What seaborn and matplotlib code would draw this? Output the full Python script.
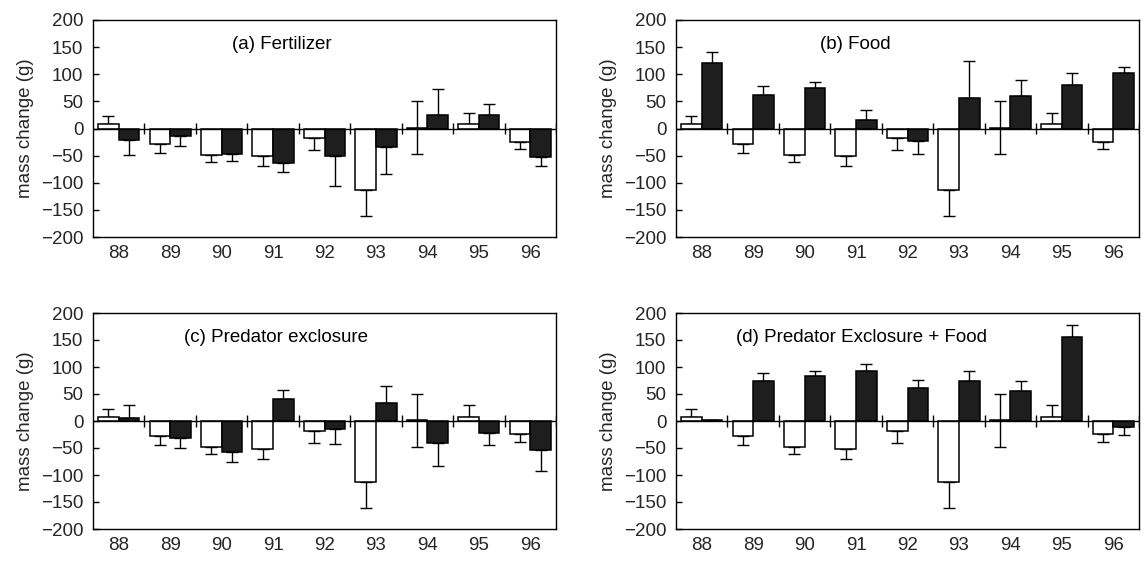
import numpy as np
import pandas as pd
import matplotlib
matplotlib.use("Agg")
import matplotlib.pyplot as plt
import seaborn as sns

# ---------------- data ----------------
years = ["88", "89", "90", "91", "92", "93", "94", "95", "96"]

control = [8, -28, -48, -51, -18, -113, 1.5, 8, -24]
control_err_hi = [15, 0, 0, 0, 0, 0, 49, 21, 0]
control_err_lo = [0, 17, 14, 19, 22, 48, 49, 0, 14]

fert = [-21, -14, -47, -63, -50, -35, 25, 25, -52]
fert_err = [28, 18, 13, 17, 56, 49, 48, 21, 18]

food = [121, 62, 75, 16, -23, 56, 60, 81, 103]
food_err = [20, 17, 11, 18, 24, 68, 30, 21, 10]

pred = [6, -31, -57, 41, -15, 33, -40, -23, -53]
pred_err = [23, 19, 18, 16, 28, 31, 43, 21, 40]

predfood = [1, 74, 84, 92, 62, 74, 55, 155, -12]
predfood_err = [0, 14, 9, 13, 14, 18, 20, 23, 14]

panels = [
    ("(a) Fertilizer", fert, fert_err),
    ("(b) Food", food, food_err),
    ("(c) Predator exclosure", pred, pred_err),
    ("(d) Predator Exclosure + Food", predfood, predfood_err),
]
title_x = [0.30, 0.312, 0.197, 0.13]

yticks = [-200, -150, -100, -50, 0, 50, 100, 150, 200]

# ---------------- style ----------------
sns.set_theme(style="white")
plt.rcParams["font.family"] = ["Liberation Sans", "DejaVu Sans"]
plt.rcParams["axes.unicode_minus"] = True

fig = plt.figure(figsize=(11.44, 5.61), dpi=100)
W, H = 1144, 561
boxes = [
    (93, 20, 556, 237),
    (676, 20, 1139, 237),
    (93, 313, 556, 529),
    (676, 313, 1139, 529),
]
FS = 13.5

for k, (title, vals, errs) in enumerate(panels):
    x0, y0, x1, y1 = boxes[k]
    ax = fig.add_axes([x0 / W, 1 - y1 / H, (x1 - x0) / W, (y1 - y0) / H])

    df = pd.DataFrame({
        "year": years * 2,
        "group": ["control"] * len(years) + ["treat"] * len(years),
        "value": list(control) + list(vals),
    })
    sns.barplot(data=df, x="year", y="value", hue="group", order=years,
                hue_order=["control", "treat"],
                palette={"control": "white", "treat": "#1e1e1e"},
                edgecolor="black", linewidth=1.1, width=0.8, gap=0,
                errorbar=None, legend=False, ax=ax, zorder=2)

    # error bars positioned from the drawn bars
    ctrl_x, trt_x = [None] * len(years), [None] * len(years)
    for p in ax.patches:
        cx = p.get_x() + p.get_width() / 2
        i = int(round(cx))
        if cx < i:
            ctrl_x[i] = cx
        else:
            trt_x[i] = cx
    ax.errorbar(ctrl_x, control, yerr=[control_err_lo, control_err_hi],
                fmt="none", ecolor="black", elinewidth=1.0, capsize=4.5,
                capthick=1.0, zorder=1)
    v = np.array(vals, dtype=float)
    e = np.array(errs, dtype=float)
    lo = np.where(v < 0, e, 0)
    hi = np.where(v >= 0, e, 0)
    ax.errorbar(trt_x, v, yerr=[lo, hi], fmt="none", ecolor="black",
                elinewidth=1.0, capsize=4.5, capthick=1.0, zorder=1)

    # zero line and group separators
    ax.axhline(0, color="black", lw=1.0, zorder=3)
    seps = np.arange(len(years)) + 0.5
    ax.vlines(seps, -11, 11, color="black", lw=1.0, zorder=3)

    ax.set_xlim(-0.5, len(years) - 0.5)
    ax.set_ylim(-200, 200)
    ax.set_yticks(yticks)
    ax.set_xlabel("")
    ax.set_ylabel("mass change (g)", fontsize=FS, labelpad=5)
    ax.tick_params(axis="y", direction="in", length=4, width=1.0,
                   labelsize=FS, pad=7, left=True, right=False, color="black")
    ax.tick_params(axis="x", length=0, labelsize=FS, pad=6)
    for s in ax.spines.values():
        s.set_visible(True)
        s.set_color("black")
        s.set_linewidth(1.0)
    ax.text(title_x[k], 0.885, title, transform=ax.transAxes, fontsize=FS,
            ha="left", va="center", color="black")

fig.savefig("out.png", dpi=100)
